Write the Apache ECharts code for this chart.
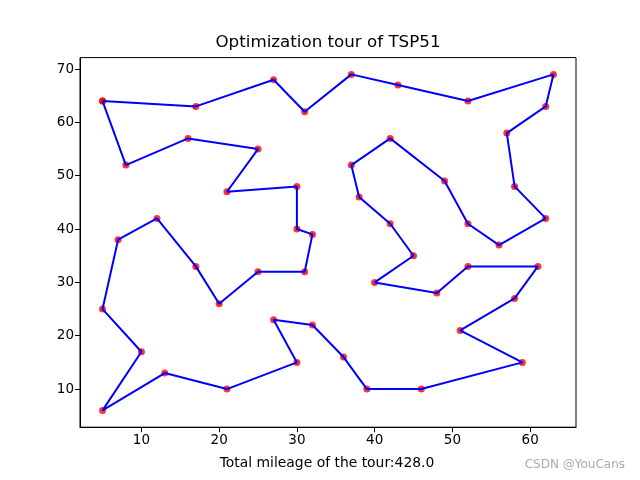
<!DOCTYPE html>
<html><head><meta charset="utf-8">
<script src="https://cdn.jsdelivr.net/npm/echarts@6/dist/echarts.min.js"></script>
<style>html,body{margin:0;padding:0;background:#fff}#c{width:640px;height:480px}</style>
</head><body><div id="c"></div>
<script>
// Tour order of city coordinates (eil51)
const tourX = [5,17,27,31,37,43,52,63,62,57,58,62,56,52,49,42,37,38,42,45,40,48,52,61,58,51,59,46,39,36,32,27,30,21,13,5,10,5,7,12,17,20,25,31,32,30,30,21,25,16,8,5];
const tourY = [64,63,68,62,69,67,64,69,63,58,48,42,37,41,49,57,52,46,41,35,30,28,33,33,27,21,15,10,10,16,22,23,15,10,13,6,17,25,38,42,33,26,32,32,39,40,48,47,55,57,52,64];
const xTicks = [10,20,30,40,50,60];
const yTicks = [10,20,30,40,50,60,70];
const titleText = 'Optimization tour of TSP51';
const xLabelText = 'Total mileage of the tour:428.0';
const watermark = 'CSDN @YouCans';

const pts = tourX.map((x,i)=>[x,tourY[i]]);
const font = 'DejaVu Sans';
const chart = echarts.init(document.getElementById('c'), null, {renderer:'canvas'});
chart.setOption({
  animation:false,
  backgroundColor:'#fff',
  grid:{left:80,right:64,top:57.6,bottom:52.8,show:true,borderColor:'#000',borderWidth:1,backgroundColor:'transparent'},
  xAxis:{type:'value',min:2.1,max:65.9,
    splitLine:{show:false},
    axisLine:{show:true,lineStyle:{color:'#000',width:1}},
    axisTick:{show:true,inside:false,length:5,lineStyle:{color:'#000'},customValues:xTicks},
    axisLabel:{fontFamily:font,fontSize:13.5,color:'#000',margin:6,customValues:xTicks,showMinLabel:true,showMaxLabel:true}},
  yAxis:{type:'value',min:2.85,max:72.15,
    splitLine:{show:false},
    axisLine:{show:true,lineStyle:{color:'#000',width:1}},
    axisTick:{show:true,inside:false,length:5,lineStyle:{color:'#000'},customValues:yTicks},
    axisLabel:{fontFamily:font,fontSize:13.5,color:'#000',margin:6,customValues:yTicks}},
  graphic:[
    {type:'text',x:328,y:43,style:{text:titleText,fontFamily:font,fontSize:16.7,fill:'#000',align:'center',verticalAlign:'middle'}},
    {type:'text',x:327,y:463,style:{text:xLabelText,fontFamily:font,fontSize:13.9,fill:'#000',align:'center',verticalAlign:'middle'}},
    {type:'text',right:15,top:459,style:{text:watermark,fontFamily:font,fontSize:12,fill:'#aaaaaa'}}
  ],
  series:[
    {type:'scatter',data:pts,symbol:'circle',symbolSize:7,itemStyle:{color:'#ff0000'},z:2,silent:true},
    {type:'line',data:pts,showSymbol:false,symbol:'none',lineStyle:{color:'#0000ff',width:2},z:3,silent:true}
  ]
});
</script></body></html>
